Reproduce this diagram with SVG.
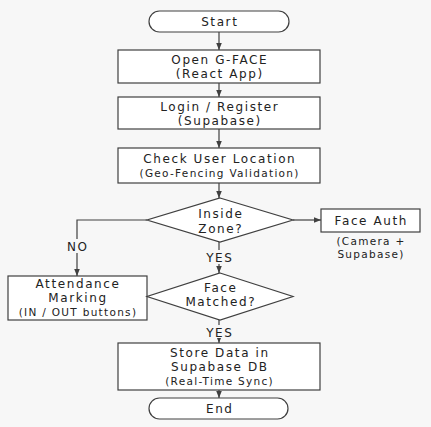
<svg xmlns="http://www.w3.org/2000/svg" width="431" height="427" viewBox="0 0 431 427">
<style>
.shape{fill:#ffffff;stroke:#404040;stroke-width:1.2}
.t{font-family:"DejaVu Sans","Liberation Sans",sans-serif;font-size:12px;fill:#222;text-anchor:middle;letter-spacing:1.6px}
.s{font-family:"DejaVu Sans","Liberation Sans",sans-serif;font-size:10.5px;fill:#222;text-anchor:middle;letter-spacing:1.3px}
.c{fill:none;stroke:#404040;stroke-width:1.2}
.lbl{fill:#f7f7f7}
</style>
<defs>
<marker id="ah" viewBox="0 0 10 10" refX="10" refY="5" markerWidth="7" markerHeight="7" orient="auto" markerUnits="userSpaceOnUse">
<path d="M0,1 L10,5 L0,9 z" fill="#404040"/>
</marker>
</defs>
<rect width="431" height="427" fill="#f7f7f7"/>
<g id="connectors">
<line class="c" x1="219" y1="32" x2="219" y2="50" marker-end="url(#ah)"/>
<line class="c" x1="219" y1="83" x2="219" y2="97" marker-end="url(#ah)"/>
<line class="c" x1="219" y1="129" x2="219" y2="148" marker-end="url(#ah)"/>
<line class="c" x1="219" y1="183" x2="219" y2="198" marker-end="url(#ah)"/>
<line class="c" x1="293" y1="220" x2="321" y2="220" marker-end="url(#ah)"/>
<polyline class="c" points="147,220 77,220 77,276" marker-end="url(#ah)"/>
<rect class="lbl" x="62" y="239" width="30" height="14"/>
<text class="t" x="77.8" y="251">NO</text>
<line class="c" x1="219" y1="242" x2="219" y2="273" marker-end="url(#ah)"/>
<rect class="lbl" x="200" y="250" width="38" height="14"/>
<text class="t" x="219.8" y="262">YES</text>
<line class="c" x1="219" y1="320" x2="219" y2="343" marker-end="url(#ah)"/>
<rect class="lbl" x="200" y="325" width="38" height="13"/>
<text class="t" x="219.8" y="337">YES</text>
<line class="c" x1="219" y1="390" x2="219" y2="398" marker-end="url(#ah)"/>
</g>
<g id="start">
<rect class="shape" x="149" y="11" width="140" height="21" rx="10.5"/>
<text class="t" x="219.8" y="26">Start</text>
</g>
<g id="open">
<rect class="shape" x="118" y="50" width="202" height="33"/>
<text class="t" x="219.8" y="64">Open G-FACE</text>
<text class="t" x="219.8" y="78">(React App)</text>
</g>
<g id="login">
<rect class="shape" x="118" y="97" width="202" height="32"/>
<text class="t" x="219.8" y="111">Login / Register</text>
<text class="t" x="219.8" y="125">(Supabase)</text>
</g>
<g id="check">
<rect class="shape" x="118" y="148" width="202" height="35"/>
<text class="t" x="219.8" y="163">Check User Location</text>
<text class="s" x="219.6" y="177">(Geo-Fencing Validation)</text>
</g>
<g id="inside">
<polygon class="shape" points="220,198 293,220 220,242 147,220"/>
<text class="t" x="220.8" y="218">Inside</text>
<text class="t" x="220.8" y="233">Zone?</text>
</g>
<g id="faceauth">
<rect class="shape" x="321" y="209" width="99" height="23"/>
<text class="t" x="371.3" y="225">Face Auth</text>
<text class="s" x="371" y="245">(Camera +</text>
<text class="s" x="371" y="258">Supabase)</text>
</g>
<g id="attendance">
<rect class="shape" x="8" y="276" width="139" height="44"/>
<text class="t" x="78" y="288">Attendance</text>
<text class="t" x="78" y="302">Marking</text>
<text class="s" x="78" y="316">(IN / OUT buttons)</text>
</g>
<g id="facematched">
<polygon class="shape" points="220,273 293,296.5 220,320 147,296.5"/>
<text class="t" x="220.8" y="292">Face</text>
<text class="t" x="220.8" y="306">Matched?</text>
</g>
<g id="store">
<rect class="shape" x="118" y="343" width="202" height="47"/>
<text class="t" x="219.8" y="357">Store Data in</text>
<text class="t" x="219.8" y="371">Supabase DB</text>
<text class="s" x="219.6" y="385">(Real-Time Sync)</text>
</g>
<g id="end">
<rect class="shape" x="149" y="398" width="139" height="21" rx="10.5"/>
<text class="t" x="219.8" y="413">End</text>
</g>
</svg>
